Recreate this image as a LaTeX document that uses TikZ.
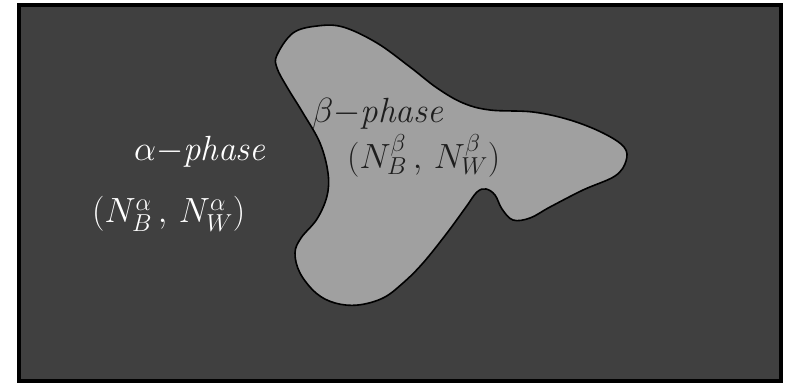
\RequirePackage{fix-cm}
\documentclass[tikz,border=0pt]{standalone}
\usepackage{tikz}
\usetikzlibrary{positioning}
\definecolor{darkfill}{RGB}{64,64,64}
\definecolor{blobfill}{RGB}{160,160,160}
\definecolor{darktext}{RGB}{30,30,30}

\begin{document}
\begin{tikzpicture}[x=1pt,y=-1pt]
			\def\fs{35}

			\tikzset{line/.style={draw,line width=1.6pt}}
			\tikzset{frame/.style={draw=black,line width=3.5pt,fill=darkfill}}
			\tikzset{label/.style={inner sep=0pt,font=\fontsize{\fs}{42}\selectfont}}

			\useasboundingbox (0,0) rectangle (791,384);

			% outer phase
			\draw[frame] (19,5) rectangle (781,381);

			% inner phase
			\draw[line,fill=blobfill] plot[smooth cycle,tension=0.6] coordinates {
					(277,55) (293,33) (317,26) (343,27) (377,43) (410,67) (437,88)
					(463,103) (490,110) (533,112) (570,120) (603,133) (624,147)
					(626,161) (615,176) (583,190) (550,207) (530,218) (513,220)
					(502,209) (495,195) (486,189) (477,192) (466,207) (447,233)
					(423,263) (403,283) (383,298) (358,305) (335,303) (316,293)
					(300,273) (295,253) (301,238) (317,219) (327,196) (328,173)
					(320,143) (303,113) (287,87) (277,68)};

			\node[label,white,anchor=west] (alphalabel) at (134,152) {$\alpha{-}$\textit{phase}};
			\node[label,white,anchor=west] (alphacount) at (92,214) {$(N^{\alpha}_{B}\,,\,N^{\alpha}_{W})$};

			\node[label,darktext,anchor=west] (betalabel) at (312,114) {$\beta{-}$\textit{phase}};
			\node[label,darktext,anchor=west] (betacount) at (347,156) {$(N^{\beta}_{B}\,,\,N^{\beta}_{W})$};
		\end{tikzpicture}
\end{document}
